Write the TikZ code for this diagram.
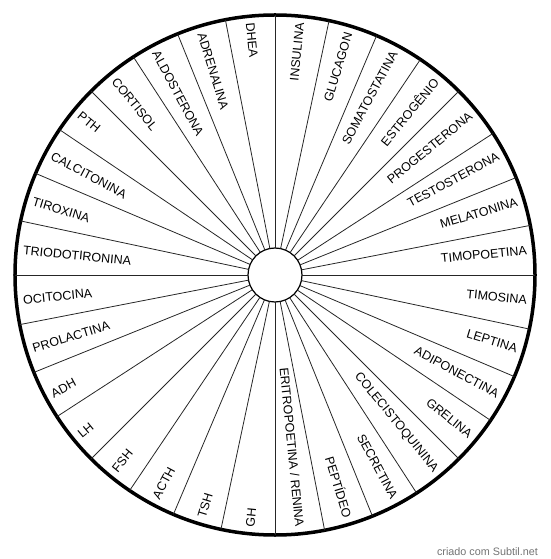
\documentclass[tikz,border=0pt]{standalone}
\usepackage{fontspec}
\setmainfont{Liberation Sans}
\usepackage{xcolor}
\usepackage{tikz}
\usetikzlibrary{positioning}

\begin{document}
\begin{tikzpicture}[
  x=1pt, y=1pt,
  font=\fontsize{12.5}{14}\selectfont,
  every node/.style={inner sep=0pt, outer sep=0pt},
  rim/.style   ={circle, draw, line width=3.5pt, minimum size=520pt},
  hub/.style   ={circle, draw, line width=1.2pt, fill=white, minimum size=54pt},
  spoke/.style ={line width=0.8pt, draw=black!85},
  rlab/.style  ={anchor=east},
  llab/.style  ={anchor=west},
  credittxt/.style={font=\fontsize{10.8}{12}\selectfont, color=black!55}
]
\useasboundingbox (-275,-284) rectangle (275,275);

% --- Wheel: outer rim, hub, 32 spokes (11.25 deg apart) ---
\node[rim] (wheel) at (0,0) {};
\node[hub] (core)  at (0,0) {};
\foreach \a in {0,1,...,31}
  \draw[spoke] (core.{90+11.25*\a}) -- (wheel.{90+11.25*\a});

% --- Right half: text ends at the rim ---
\node[rlab, rotate= 84.375] (insulina) at ( 84.375:253) {INSULINA};
\node[rlab, rotate= 73.125] (glucagon) at ( 73.125:253) {GLUCAGON};
\node[rlab, rotate= 61.875] (somato)   at ( 61.875:253) {SOMATOSTATINA};
\node[rlab, rotate= 50.625] (estrog)   at ( 50.625:253) {ESTROGÊNIO};
\node[rlab, rotate= 39.375] (progest)  at ( 39.375:253) {PROGESTERONA};
\node[rlab, rotate= 28.125] (testost)  at ( 28.125:253) {TESTOSTERONA};
\node[rlab, rotate= 16.875] (melaton)  at ( 16.875:253) {MELATONINA};
\node[rlab, rotate=  5.625] (timopoet) at (  5.625:253) {TIMOPOETINA};
\node[rlab, rotate= -5.625] (timosina) at ( -5.625:253) {TIMOSINA};
\node[rlab, rotate=-16.875] (leptina)  at (-16.875:253) {LEPTINA};
\node[rlab, rotate=-28.125] (adipon)   at (-28.125:253) {ADIPONECTINA};
\node[rlab, rotate=-39.375] (grelina)  at (-39.375:253) {GRELINA};
\node[rlab, rotate=-50.625] (colecist) at (-50.625:253) {COLECISTOQUININA};
\node[rlab, rotate=-61.875] (secretina)at (-61.875:253) {SECRETINA};
\node[rlab, rotate=-73.125] (peptideo) at (-73.125:253) {PEPTÍDEO};
\node[rlab, rotate=-84.375] (eritro)   at (-84.375:253) {ERITROPOETINA / RENINA};

% --- Left half: text starts at the rim ---
\node[llab, rotate=-84.375] (dhea)     at ( 95.625:253) {DHEA};
\node[llab, rotate=-73.125] (adrenal)  at (106.875:253) {ADRENALINA};
\node[llab, rotate=-61.875] (aldoster) at (118.125:253) {ALDOSTERONA};
\node[llab, rotate=-50.625] (cortisol) at (129.375:253) {CORTISOL};
\node[llab, rotate=-39.375] (pth)      at (140.625:253) {PTH};
\node[llab, rotate=-28.125] (calciton) at (151.875:253) {CALCITONINA};
\node[llab, rotate=-16.875] (tiroxina) at (163.125:253) {TIROXINA};
\node[llab, rotate= -5.625] (triodot)  at (174.375:253) {TRIODOTIRONINA};
\node[llab, rotate=  5.625] (ocitoc)   at (185.625:253) {OCITOCINA};
\node[llab, rotate= 16.875] (prolact)  at (196.875:253) {PROLACTINA};
\node[llab, rotate= 28.125] (adh)      at (208.125:253) {ADH};
\node[llab, rotate= 39.375] (lh)       at (219.375:253) {LH};
\node[llab, rotate= 50.625] (fsh)      at (230.625:253) {FSH};
\node[llab, rotate= 61.875] (acth)     at (241.875:253) {ACTH};
\node[llab, rotate= 73.125] (tsh)      at (253.125:253) {TSH};
\node[llab, rotate= 84.375] (gh)       at (264.375:253) {GH};

% --- Credit line ---
\node[credittxt] (credit) at (212.5,-277) {criado com Subtil.net};

\end{tikzpicture}
\end{document}
